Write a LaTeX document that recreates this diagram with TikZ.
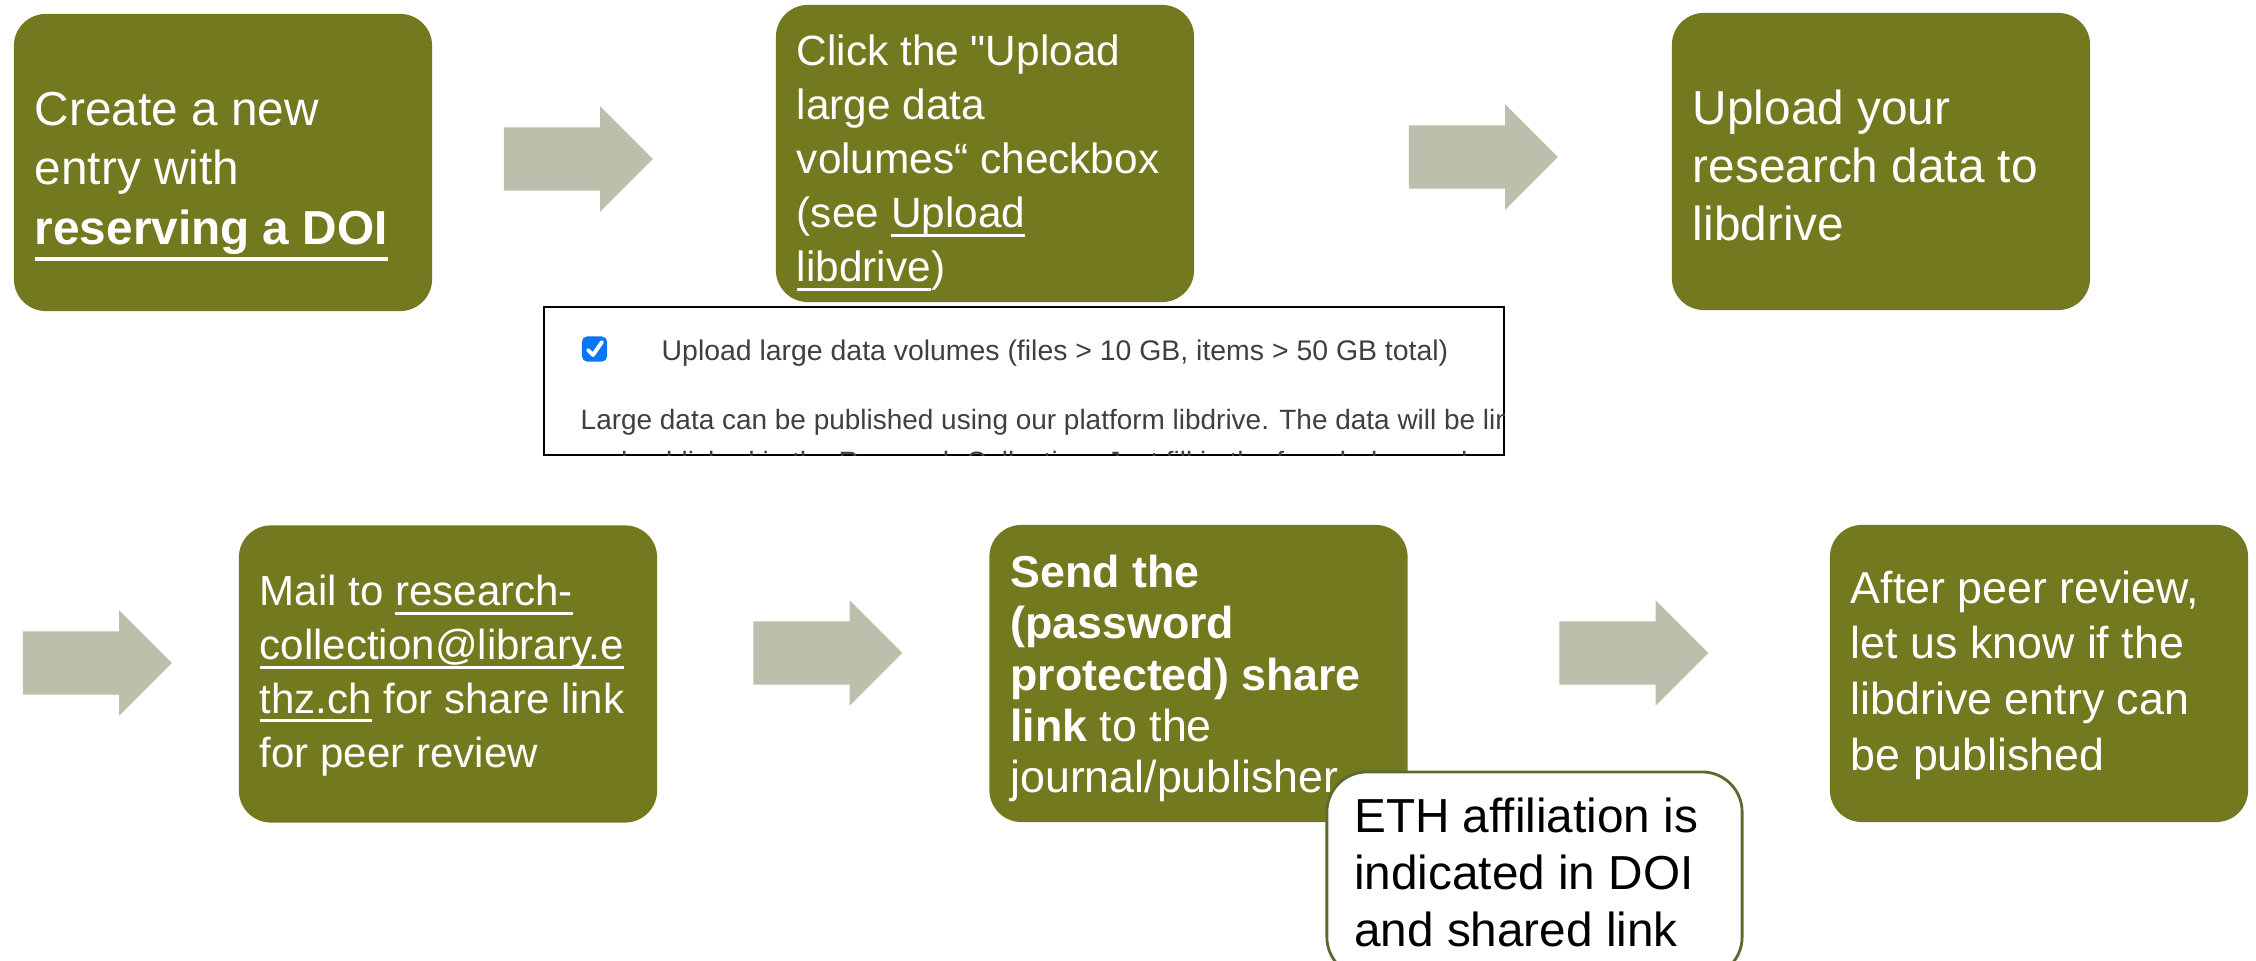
\documentclass[tikz,border=0pt]{standalone}
\usepackage{fontspec}
\setmainfont{Liberation Sans}[Ligatures=NoCommon]
\newfontfamily\plainquote{Liberation Sans}
\usetikzlibrary{calc}
\usetikzlibrary{shapes.arrows}
\definecolor{ETHOlive}{HTML}{73791E}
\definecolor{ETHArrowGray}{HTML}{BDBFAD}
\definecolor{ETHNoteBorder}{HTML}{5B6A2D}
\definecolor{CheckBlue}{HTML}{0B76F5}
\definecolor{ShotGray}{HTML}{3F3F3F}
% underline at a fixed depth below the baseline: \ulink[depth]{thickness}{text}
\newsavebox\ulbox
\newcommand{\ulink}[3][1.7pt]{\sbox\ulbox{#3}\rlap{\vrule height -#1 depth \dimexpr#1+#2\relax width \wd\ulbox}\usebox\ulbox}

\begin{document}
\begin{tikzpicture}[x=0.01cm,y=-0.01cm]
    \tikzstyle{box}=[rounded corners=0.32cm, fill=ETHOlive, minimum width=4.18cm, minimum height=2.97cm, inner sep=0pt]
    \tikzstyle{txt}=[anchor=north west, inner sep=0pt, align=left, text=white]
    \tikzstyle{arr}=[single arrow, fill=ETHArrowGray, inner xsep=0pt, inner ysep=0.31cm, minimum height=1.49cm, minimum width=1.04cm, single arrow head extend=0.21cm, single arrow tip angle=90]
    \tikzstyle{shottxt}=[anchor=base west, inner sep=0pt, text=ShotGray, font=\fontsize{8.08pt}{9.7pt}\selectfont]

    \useasboundingbox (0,0) rectangle (2256,961);

    % create entry
    \coordinate (entry_c) at (223,162.5);
    \node[box] (entry) at (entry_c) {};
    \node[txt, font=\fontsize{13.57pt}{16.9pt}\selectfont] (entry_txt) at ($(entry.north west)+(21,78)$)
        {Create a new\\entry with\\\textbf{\ulink[3.6pt]{1.1pt}{reserving a DOI}}};

    \node[arr] (arrow_1) at (562.5,159) {};

    % checkbox
    \coordinate (click_c) at (985,153.5);
    \node[box] (click) at (click_c) {};
    \node[txt, font=\fontsize{12.04pt}{15.36pt}\selectfont] (click_txt) at ($(click.north west)+(21,30)$)
        {Click the {\plainquote"}Upload\\large data\\volumes“ checkbox\\(see \ulink{0.9pt}{Upload}\\\ulink{0.9pt}{libdrive})};

    \node[arr] (arrow_2) at (1467.5,157) {};

    % upload
    \coordinate (upload_c) at (1881,161.5);
    \node[box] (upload) at (upload_c) {};
    \node[txt, font=\fontsize{13.57pt}{16.5pt}\selectfont] (upload_txt) at ($(upload.north west)+(21,77)$)
        {Upload your\\research data to\\libdrive};

    % screenshot of the form
    \node[draw=black, line width=0.6pt, minimum width=9.6cm, minimum height=1.48cm, inner sep=0pt] (shot) at (1024,381) {};
    \begin{scope}
        \clip ($(shot.south west)+(1,-1)$) rectangle ($(shot.north east)+(-1,1)$);
        \node[fill=CheckBlue, rounded corners=0.05cm, minimum size=0.25cm, inner sep=0pt] (check) at (594.5,349) {};
        \draw[white, line width=1.1pt, line cap=round, line join=round] ($(check.center)+(-6.5,1)$) -- ($(check.center)+(-1.5,6)$) -- ($(check.center)+(7.5,-7)$);
        \node[shottxt] (shot_l1) at (661,361) {Upload large data volumes (files > 10 GB, items > 50 GB total)};
        \node[shottxt, font=\fontsize{7.95pt}{9.7pt}\selectfont] (shot_l2) at (580,430) {Large data can be published using our platform libdrive. The data will be linked};
        \node[shottxt, font=\fontsize{7.95pt}{9.7pt}\selectfont] (shot_l3) at (580,472) {and published in the Research Collection. Just fill in the form below and complete the submission. For};
    \end{scope}

    % second row
    \node[arr] (arrow_3) at (81.5,663) {};

    % mail
    \coordinate (mail_c) at (448,674);
    \node[box] (mail) at (mail_c) {};
    \node[txt, font=\fontsize{11.95pt}{15.28pt}\selectfont] (mail_txt) at ($(mail.north west)+(21,50)$)
        {Mail to \ulink{0.9pt}{research-}\\\ulink{0.9pt}{collection@library.e}\\\ulink{0.9pt}{thz.ch} for share link\\for peer review};

    \node[arr] (arrow_4) at (812,653) {};

    % share link
    \coordinate (share_c) at (1198.5,673.5);
    \node[box] (share) at (share_c) {};
    \node[txt, font=\fontsize{12.72pt}{14.6pt}\selectfont] (share_txt) at ($(share.north west)+(21,30)$)
        {\textbf{Send the}\\\textbf{(password}\\\textbf{protected) share}\\\textbf{link} to the\\journal/publisher};

    \node[arr] (arrow_5) at (1618,653) {};

    % publish
    \coordinate (publish_c) at (2039,673.5);
    \node[box] (publish) at (publish_c) {};
    \node[txt, font=\fontsize{12.72pt}{15.8pt}\selectfont] (publish_txt) at ($(publish.north west)+(21,46)$)
        {After peer review,\\let us know if the\\libdrive entry can\\be published};

    % affiliation note
    \node[draw=ETHNoteBorder, line width=0.8pt, fill=white, rounded corners=0.4cm, minimum width=4.15cm, minimum height=2.05cm, inner sep=0pt] (note) at (1534.5,874.5) {};
    \node[txt, text=black, font=\fontsize{13.57pt}{16.2pt}\selectfont] (note_txt) at ($(note.north west)+(28,27)$)
        {ETH affiliation is\\indicated in DOI\\and shared link};

\end{tikzpicture}
\end{document}
